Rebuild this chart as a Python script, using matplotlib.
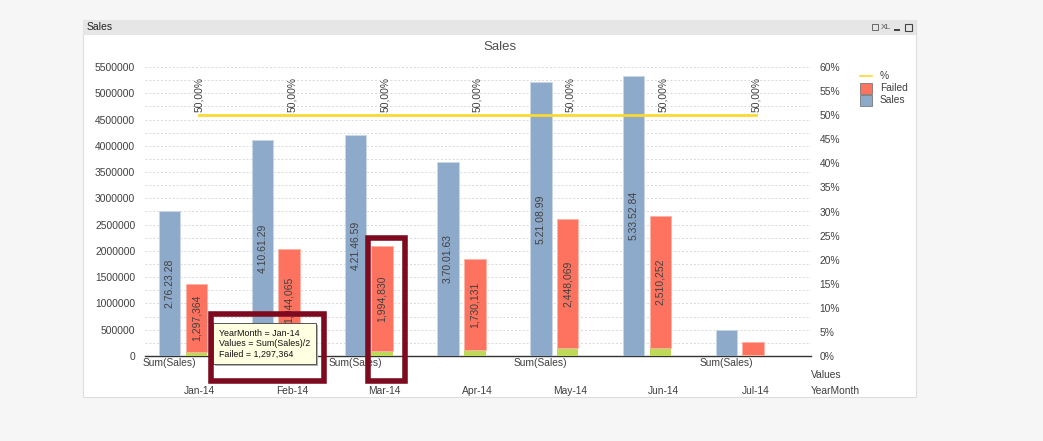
import matplotlib
matplotlib.use('Agg')
import matplotlib.pyplot as plt
from matplotlib.patches import Rectangle
from matplotlib.transforms import blended_transform_factory
import numpy as np

plt.rcParams['font.family'] = ['Liberation Sans', 'DejaVu Sans']

months = ['Jan-14', 'Feb-14', 'Mar-14', 'Apr-14', 'May-14', 'Jun-14', 'Jul-14']
sales = [2762328, 4106129, 4214659, 3700163, 5210899, 5335284, 500000]
sales_labels = ['2.76.23.28', '4.10.61.29', '4.21.46.59', '3.70.01.63',
                '5.21.08.99', '5.33.52.84', '']
failed = [1297364, 1944065, 1994830, 1730131, 2448069, 2510252, 240000]
failed_labels = ['1,297,364', '1,944,065', '1,994,830', '1,730,131',
                 '2,448,069', '2,510,252', '']
base = [82000, 100000, 100000, 114000, 152000, 152000, 20000]
pct = [0.5, 0.5, 0.5, 0.5, 0.5, 0.5, 0.5]
pct_labels = ['50,00%'] * 7
left_ticks = list(range(0, 5500001, 500000))
right_ticks = [i / 100 for i in range(0, 61, 5)]

W, H = 1043, 441
BLUE = '#8eaacb'
RED = '#fd735f'
GREEN = '#bcd957'
YEL = '#fcd92e'
TXT = '#404040'
FRAME = '#7d0a1f'

fig = plt.figure(figsize=(W / 100, H / 100), dpi=100, facecolor='#f6f6f6')

# background panel
bg = fig.add_axes([0, 0, 1, 1])
bg.set_xlim(0, W)
bg.set_ylim(H, 0)
bg.axis('off')
bg.set_zorder(0)
bg.add_patch(Rectangle((83, 20), 833, 377, facecolor='white', edgecolor='#dedede', lw=0.8))
bg.add_patch(Rectangle((83, 20), 833, 15, facecolor='#e6e6e6', edgecolor='none'))
bg.text(87, 27.5, 'Sales', fontsize=7.5, color='#222222', va='center')
bg.text(500, 47, 'Sales', fontsize=9.5, color='#505050', ha='center', va='center')
# caption icons
bg.add_patch(Rectangle((872, 24), 6, 6, facecolor='none', edgecolor='#555555', lw=0.6))
bg.text(881, 27.5, 'XL', fontsize=6, color='#555555', va='center')
bg.add_patch(Rectangle((894, 29), 6, 2, facecolor='#444444', edgecolor='none'))
bg.add_patch(Rectangle((905, 23.5), 6.5, 7, facecolor='none', edgecolor='#444444', lw=0.8))

# main chart
x0, x1, y0, y1 = 145, 811, 356, 67
ax = fig.add_axes([x0 / W, 1 - y0 / H, (x1 - x0) / W, (y0 - y1) / H])
ax.set_zorder(1)
ax.patch.set_visible(False)
ppu = 92.8
ax.set_xlim((x0 - 199) / ppu, (x1 - 199) / ppu)
ax.set_ylim(0, 5500000)

x = np.arange(len(months))
bw = 0.232
xb = x - 0.316
xr = x - 0.028

ax.bar(xb, sales, width=bw, color=BLUE, edgecolor='#c9d7e8', lw=0.6, zorder=3)
ax.bar(xr, base, width=bw, color=GREEN, edgecolor='none', zorder=3)
ax.bar(xr, failed, width=bw, bottom=base, color=RED, edgecolor='#ffb3a6', lw=0.6, zorder=3)

for i in range(len(months)):
    if sales_labels[i]:
        ax.text(xb[i], sales[i] / 2, sales_labels[i], rotation=90, ha='center',
                va='center', fontsize=7.5, color=TXT, zorder=4)
    if failed_labels[i]:
        ax.text(xr[i], base[i] + failed[i] / 2, failed_labels[i], rotation=90,
                ha='center', va='center', fontsize=7.5, color=TXT, zorder=4)

ax.set_yticks(left_ticks)
ax.set_yticklabels([str(v) for v in left_ticks])
ax.set_yticks(np.arange(250000, 5500000, 500000), minor=True)
ax.tick_params(axis='y', which='both', length=0, pad=7, labelsize=7.4, labelcolor=TXT)
ax.set_xticks([])
ax.grid(axis='y', which='both', color='#d9d9d9', lw=0.7, linestyle=(0, (2, 2)), zorder=0)
for s in ['left', 'right', 'top']:
    ax.spines[s].set_visible(False)
ax.spines['bottom'].set_color('#333333')
ax.spines['bottom'].set_linewidth(1.0)

tr = blended_transform_factory(ax.transData, fig.transFigure)
for i in range(0, len(months), 2):
    ax.text(xb[i], 1 - 363 / H, 'Sum(Sales)', transform=tr, ha='center', va='center',
            fontsize=7.4, color=TXT, clip_on=False, zorder=5)
for i, m in enumerate(months):
    ax.text(x[i], 1 - 391 / H, m, transform=tr, ha='center', va='center',
            fontsize=7.4, color=TXT, clip_on=False)

# percent axis
ax2 = ax.twinx()
ax2.set_zorder(2)
ax2.set_ylim(0, 0.6)
ax2.plot(x, pct, color=YEL, lw=2.0, zorder=3)
for i in range(len(months)):
    ax2.annotate(pct_labels[i], (x[i], pct[i]), xytext=(0, 2.5), textcoords='offset points',
                 rotation=90, ha='center', va='bottom', fontsize=7.4, color=TXT)
ax2.set_yticks(right_ticks)
ax2.set_yticklabels([f'{int(round(v * 100))}%' for v in right_ticks])
ax2.tick_params(axis='y', length=0, pad=6, labelsize=7.4, labelcolor=TXT)
for s in ['left', 'right', 'top', 'bottom']:
    ax2.spines[s].set_visible(False)

# overlay: legend, axis captions, tooltip, highlight frames
ov = fig.add_axes([0, 0, 1, 1])
ov.set_xlim(0, W)
ov.set_ylim(H, 0)
ov.axis('off')
ov.set_zorder(3)

ov.plot([860, 872], [76.3, 76.3], color=YEL, lw=1.2)
ov.add_patch(Rectangle((860, 82.5), 12, 11.5, facecolor=RED, edgecolor='#666666', lw=0.5))
ov.add_patch(Rectangle((860, 94.5), 12, 11.5, facecolor=BLUE, edgecolor='#666666', lw=0.5))
ov.text(880, 76, '%', fontsize=7.4, color=TXT, va='center')
ov.text(880, 88, 'Failed', fontsize=7.4, color=TXT, va='center')
ov.text(880, 100, 'Sales', fontsize=7.4, color=TXT, va='center')

ov.text(811, 375, 'Values', fontsize=7.4, color=TXT, va='center')
ov.text(811, 391, 'YearMonth', fontsize=7.4, color=TXT, va='center')

# tooltip
ov.add_patch(Rectangle((215, 325), 103, 41, facecolor='#b0b0b0', edgecolor='none'))
ov.add_patch(Rectangle((212.5, 323), 103, 41, facecolor='#ffffe1', edgecolor='#555555', lw=0.7))
tip = ['YearMonth = Jan-14', 'Values = Sum(Sales)/2', 'Failed = 1,297,364']
for k, line in enumerate(tip):
    ov.text(219, 334 + k * 10, line, fontsize=6.4, color='#111111', va='center')

# highlight frames
ov.add_patch(Rectangle((211, 314), 113, 67.2, facecolor='none', edgecolor=FRAME, lw=4.0))
ov.add_patch(Rectangle((368, 237.8), 36.8, 143.6, facecolor='none', edgecolor=FRAME, lw=4.0))

fig.savefig('out.png', dpi=100, facecolor=fig.get_facecolor())
